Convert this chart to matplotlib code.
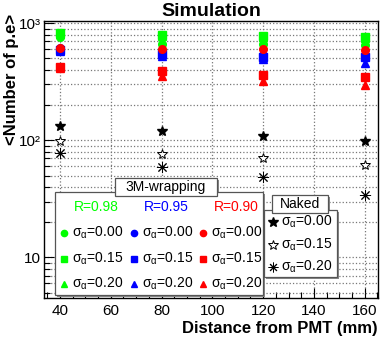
import matplotlib
matplotlib.use("Agg")
import matplotlib.pyplot as plt
from matplotlib.patches import Rectangle
from matplotlib.ticker import FixedLocator, NullFormatter

plt.rcParams['font.family'] = ['Liberation Sans', 'DejaVu Sans']
plt.rcParams['mathtext.fontset'] = 'custom'
plt.rcParams['mathtext.rm'] = 'Liberation Sans'
plt.rcParams['mathtext.it'] = 'Liberation Sans:italic'

# -------------------------------
# data
# -------------------------------
distance = [40, 80, 120, 160]

# 3M-wrapping, R=0.98 (green)
g_s000 = [760, 665, 662, 650]
g_s015 = [830, 795, 784, 765]
g_s020 = [815, 780, 770, 752]
# R=0.95 (blue)
b_s000 = [620, 560, 540, 530]
b_s015 = [590, 543, 518, 510]
b_s020 = [580, 530, 490, 460]
# R=0.90 (red)
r_s000 = [615, 600, 600, 590]
r_s015 = [425, 390, 364, 350]
r_s020 = [415, 355, 321, 297]

# Naked (black)
n_s000 = [132, 120, 109, 99]
n_s015 = [98, 76, 70, 61]
n_s020 = [78, 59, 49, 34]

sigma_labels = ["0.00", "0.15", "0.20"]
r_labels = ["R=0.98", "R=0.95", "R=0.90"]

GREEN, BLUE, RED = "#00ff00", "#0000ff", "#ff0000"
ASTER = (8, 2, 0)

# -------------------------------
# figure / axes
# -------------------------------
W, H = 382, 340
fig = plt.figure(figsize=(W / 100, H / 100), dpi=100)
ax = fig.add_axes([44 / W, 1 - 298 / H, (378 - 44) / W, (298 - 20.5) / H])

def px(x, y):
    return x / W, 1 - y / H

groups = [
    (GREEN, [g_s000, g_s015, g_s020]),
    (BLUE, [b_s000, b_s015, b_s020]),
    (RED, [r_s000, r_s015, r_s020]),
]
shapes = ["o", "s", "^"]
for col, series in groups:
    for vals, m in zip(series[::-1], shapes[::-1]):
        ax.plot(distance, vals, ls="none", marker=m, ms=5.5, color=col, mec=col, zorder=3)

ax.plot(distance, n_s000, ls="none", marker="*", ms=7.5, color="k", zorder=3)
ax.plot(distance, n_s015, ls="none", marker="*", ms=7.5, mfc="white", mec="k", mew=0.7, zorder=3)
ax.plot(distance, n_s020, ls="none", marker=ASTER, ms=8, color="k", mew=0.7, zorder=3)

ax.set_yscale("log")
ax.set_xlim(33.7, 165.2)
ax.set_ylim(4.5, 1055)

ax.xaxis.set_major_locator(FixedLocator([40, 60, 80, 100, 120, 140, 160]))
ax.xaxis.set_minor_locator(FixedLocator([x for x in range(35, 166, 5)]))
ax.set_xticklabels(["40", "60", "80", "100", "120", "140", "160"])

ax.yaxis.set_major_locator(FixedLocator([10, 100, 1000]))
ax.set_yticklabels(["10", "10\u00b2", "10\u00b3"])
minors = [v * d for d in (1, 10, 100) for v in range(2, 10)] + [5, 6, 7, 8, 9]
ax.yaxis.set_minor_locator(FixedLocator(sorted(set(minors))))
ax.yaxis.set_minor_formatter(NullFormatter())

ax.tick_params(which="both", direction="in", top=False, right=False, labelsize=11)
ax.tick_params(which="major", length=7, width=0.8)
ax.tick_params(which="minor", length=4, width=0.8)
ax.tick_params(axis="y", pad=2)
ax.tick_params(axis="x", pad=4)

ax.grid(True, which="major", axis="x", ls=":", color="#777777", lw=0.9)
ax.grid(True, which="both", axis="y", ls=":", color="#777777", lw=0.9)
for s in ax.spines.values():
    s.set_linewidth(1.0)

ax.set_title("Simulation", fontsize=14, fontweight="bold", pad=2)
fig.text(378 / W, 1 - 328 / H, "Distance from PMT (mm)", ha="right", va="center",
         fontsize=12, fontweight="bold")
fig.text(12 / W, 1 - 14 / H, "<Number of p.e>", ha="center", va="top", rotation=90,
         fontsize=12, fontweight="bold")

# -------------------------------
# legend boxes
# -------------------------------
def box(x0, y0, x1, y1, shadow=2):
    fig.patches.append(Rectangle(px(x0 + shadow, y1 + shadow), (x1 - x0) / W, (y1 - y0) / H,
                                 transform=fig.transFigure, facecolor="#888888",
                                 edgecolor="none", zorder=5))
    fig.patches.append(Rectangle(px(x0, y1), (x1 - x0) / W, (y1 - y0) / H,
                                 transform=fig.transFigure, facecolor="white",
                                 edgecolor="#555555", lw=0.9, zorder=6))

fs = 10
box(55, 192, 263, 295)
box(115, 178, 217, 196)
fig.text(*px(166, 187.5), "3M-wrapping", ha="center", va="center", fontsize=fs, zorder=7)

col_mx = [64, 134, 203]
col_cx = [96, 166, 236]
row_y = [232.5, 258.5, 283.5]
for ci, (col, _) in enumerate(groups):
    fig.text(*px(col_cx[ci], 207), r_labels[ci], color=col, ha="center", va="center",
             fontsize=fs, zorder=7)
    for ri, lab in enumerate(sigma_labels):
        fig.lines.append(plt.Line2D([col_mx[ci] / W], [1 - row_y[ri] / H], ls="none",
                                    marker=shapes[ri], ms=4.5, color=col,
                                    transform=fig.transFigure, zorder=7))
        fig.text(*px(col_mx[ci] + 8, row_y[ri]), "\u03c3$_{\\mathregular{\u03b1}}$=" + lab,
                 ha="left", va="center", fontsize=fs, zorder=7)

box(264, 210, 337, 277)
box(272, 195, 328, 213)
fig.text(*px(300, 204), "Naked", ha="center", va="center", fontsize=fs, zorder=7)
naked_m = [dict(marker="*", color="k"),
           dict(marker="*", mfc="white", mec="k", mew=0.7),
           dict(marker=ASTER, color="k", mew=0.7)]
naked_y = [222, 245, 267]
for ri, lab in enumerate(sigma_labels):
    fig.lines.append(plt.Line2D([273 / W], [1 - naked_y[ri] / H], ls="none", ms=7,
                                transform=fig.transFigure, zorder=7, **naked_m[ri]))
    fig.text(*px(281, naked_y[ri]), "\u03c3$_{\\mathregular{\u03b1}}$=" + lab,
             ha="left", va="center", fontsize=fs, zorder=7)

fig.savefig("out.png", dpi=100)
